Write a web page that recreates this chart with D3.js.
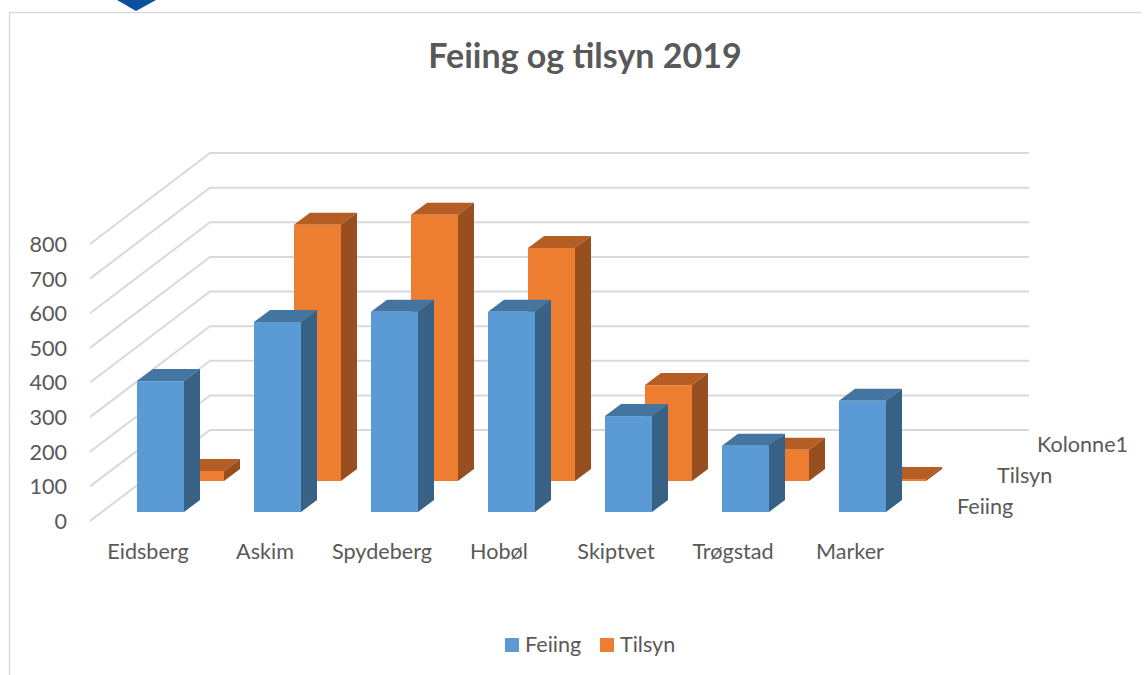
<!DOCTYPE html>
<html>
<head>
<meta charset="utf-8">
<script src="https://cdn.jsdelivr.net/npm/d3@7"></script>
<style>
  html, body { margin: 0; padding: 0; background: #fff; }
  svg { display: block; }
  text { font-family: Lato, "Open Sans", sans-serif; fill: #595959; }
  .axis text { font-size: 21.6px; fill: #595959; font-family: Lato, "Open Sans", sans-serif; }
  .axis path, .axis line { display: none; }
</style>
</head>
<body>
<svg width="1146" height="675"></svg>
<script>
var categories = ["Eidsberg", "Askim", "Spydeberg", "Hobøl", "Skiptvet", "Trøgstad", "Marker"];
var feiing = [378, 549, 578, 578, 277, 191, 321];
var tilsyn = [29, 740, 769, 673, 277, 90, 6];
var seriesNames = ["Feiing", "Tilsyn", "Kolonne1"];
var yTicks = [0, 100, 200, 300, 400, 500, 600, 700, 800];

var colors = {
	Feiing: { front: "#5B9BD5", top: "#4475A0", side: "#376285" },
	Tilsyn: { front: "#ED7D31", top: "#B45E25", side: "#974F1F" }
};

var svg = d3.select("svg");

// frame of the chart, cut off on the right and bottom in the picture
svg.append("path")
	.attr("d", "M9.5,675V12.5H1141")
	.attr("fill", "none")
	.attr("stroke", "#D9D9D9")
	.attr("stroke-width", 1.5);

// corner of the logo sticking in at the top
svg.append("path")
	.attr("d", "M117,0L136,11L156,0Z")
	.attr("fill", "#0B4F9E");

svg.append("text")
	.attr("x", 585)
	.attr("y", 68)
	.attr("text-anchor", "middle")
	.attr("font-size", 34)
	.attr("font-weight", "bold")
	.text("Feiing og tilsyn 2019");

var y = d3.scaleLinear().domain([0, 800]).range([521, 244]);
var x = d3.scaleBand().domain(categories).range([102, 921])
	.paddingInner(70 / 117)
	.paddingOuter(35 / 117);

// depth of the 3d floor
var wallX = 120, wallY = -91, wallEnd = 1029, frontX = 90;
var depthX = d3.scalePoint().domain(seriesNames).range([0, 80]);
var depthY = d3.scalePoint().domain(seriesNames).range([-9, -71]);
var barDepthX = 16, barDepthY = -12;

var grid = svg.append("g").attr("class", "grid");
yTicks.forEach(function(t) {
	grid.append("path")
		.attr("d", d3.line()([
			[frontX, y(t)],
			[frontX + wallX, y(t) + wallY],
			[wallEnd, y(t) + wallY]
		]))
		.attr("fill", "none")
		.attr("stroke", "#D9D9D9")
		.attr("stroke-width", 2);
});

svg.append("g")
	.attr("class", "axis")
	.attr("transform", "translate(67,0.5)")
	.call(d3.axisLeft(y).tickValues(yTicks).tickSize(0).tickPadding(0));

svg.append("g")
	.attr("class", "axis")
	.attr("transform", "translate(-12.5,535.5)")
	.call(d3.axisBottom(x).tickSize(0).tickPadding(8));

drawSeries("Tilsyn", tilsyn);
drawSeries("Feiing", feiing);

function drawSeries(name, values) {
	var g = svg.append("g").attr("class", "series");
	var c = colors[name];
	var off = depthX(name);
	var base = y(0) + depthY(name);
	categories.forEach(function(cat, i) {
		var x0 = x(cat) + off;
		var x1 = x0 + x.bandwidth();
		var yTop = base - (y(0) - y(values[i]));
		var line = d3.line();
		g.append("path")
			.attr("d", line([[x0, yTop], [x0 + barDepthX, yTop + barDepthY], [x1 + barDepthX, yTop + barDepthY], [x1, yTop]]) + "Z")
			.attr("fill", c.top);
		g.append("path")
			.attr("d", line([[x1, yTop], [x1 + barDepthX, yTop + barDepthY], [x1 + barDepthX, base + barDepthY], [x1, base]]) + "Z")
			.attr("fill", c.side);
		g.append("rect")
			.attr("x", x0)
			.attr("y", yTop)
			.attr("width", x.bandwidth())
			.attr("height", base - yTop)
			.attr("fill", c.front);
	});
}

// series names along the depth axis
var depthAxis = svg.append("g").attr("class", "axis");
seriesNames.forEach(function(name) {
	depthAxis.append("text")
		.attr("x", 957 + depthX(name))
		.attr("y", 514 + depthY(name) + 9)
		.text(name);
});

// legend
var legend = svg.append("g").attr("class", "axis");
[["Feiing", 505], ["Tilsyn", 600]].forEach(function(d) {
	legend.append("rect")
		.attr("x", d[1])
		.attr("y", 638)
		.attr("width", 14)
		.attr("height", 14)
		.attr("fill", colors[d[0]].front);
	legend.append("text")
		.attr("x", d[1] + 20)
		.attr("y", 652)
		.text(d[0]);
});
</script>
</body>
</html>
